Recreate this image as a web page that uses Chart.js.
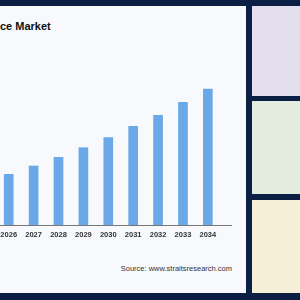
<!DOCTYPE html>
<html>
<head>
<meta charset="utf-8">
<script src="https://cdn.jsdelivr.net/npm/chart.js@4"></script>
<style>
  html, body { margin: 0; padding: 0; }
  body { width: 300px; height: 300px; background: #0b1f45; position: relative; overflow: hidden; font-family: "Liberation Sans", Arial, sans-serif; }
  #panel { position: absolute; left: 0; top: 6px; width: 246px; height: 287px; background: #f7f9fd; overflow: hidden; }
  #title { position: absolute; left: 0; top: 14px; font-size: 11px; font-weight: bold; color: #111; white-space: nowrap; }
  #wrap { position: absolute; left: 0; top: 29px; width: 232px; height: 209px; }
  #source { position: absolute; right: 14px; top: 258px; font-size: 7.5px; color: #333; white-space: nowrap; }
  .side { position: absolute; left: 252px; width: 48px; }
</style>
</head>
<body>
<div id="panel">
  <div id="title">ce Market</div>
  <div id="wrap"><canvas id="grafico"></canvas></div>
  <div id="source">Source: www.straitsresearch.com</div>
</div>
<div class="side" style="top:6px;height:90px;background:#e4dfee;"></div>
<div class="side" style="top:101px;height:93px;background:#e2ecdf;"></div>
<div class="side" style="top:200px;height:93px;background:#f6efd7;"></div>
<script>
// Anos e valores (estimados a partir da imagem)
const anos = [2026, 2027, 2028, 2029, 2030, 2031, 2032, 2033, 2034];
const valores = [50.7, 59, 67.7, 77.3, 87.3, 98.7, 109.7, 122.7, 136];

const config = {
  type: "bar",
  data: {
    datasets: [
      {
        label: "Market",
        backgroundColor: "#6aa8e8",
        barThickness: 9,
        data: anos.map((a, i) => ({ x: a, y: valores[i] })),
      },
    ],
  },
  options: {
    responsive: false,
    animation: false,
    layout: { padding: 0 },
    plugins: { legend: { display: false }, tooltip: { enabled: false } },
    scales: {
      x: {
        type: "linear",
        offset: false,
        min: 2025.65,
        max: 2034.97,
        afterBuildTicks: (axis) => {
          axis.ticks = anos.map((v) => ({ value: v }));
        },
        // o rótulo 2026 pode ficar cortado na borda, como na imagem
        afterFit: (axis) => {
          axis.paddingLeft = 0;
          axis.paddingRight = 0;
        },
        grid: { display: false, drawTicks: false, offset: false },
        border: { display: true, color: "#777", width: 1 },
        ticks: {
          autoSkip: false,
          maxRotation: 0,
          padding: 5,
          color: "#333",
          font: { size: 7.5, weight: "bold", family: "Liberation Sans" },
          callback: (v) => String(v),
        },
      },
      y: {
        display: false,
        beginAtZero: true,
        max: 190,
      },
    },
  },
};

const canvas = document.getElementById("grafico");
canvas.width = 232;
canvas.height = 209;
new Chart(canvas.getContext("2d"), config);
</script>
</body>
</html>
